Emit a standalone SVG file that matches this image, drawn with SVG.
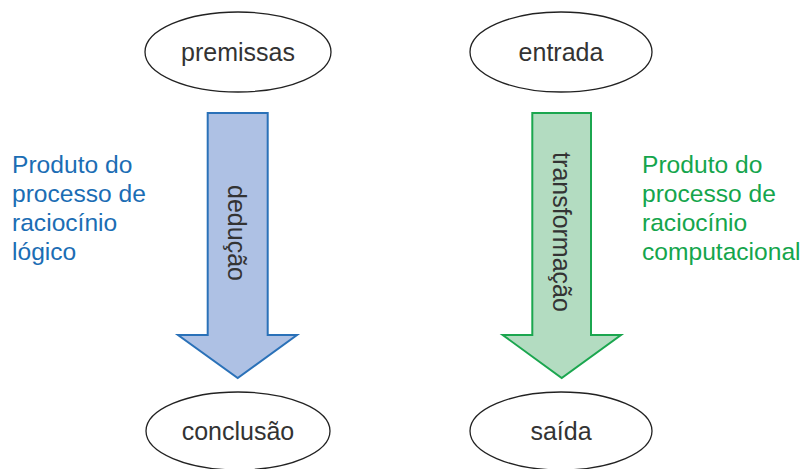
<svg xmlns="http://www.w3.org/2000/svg" width="805" height="469" viewBox="0 0 805 469">
<style>
.node ellipse{fill:#fff;stroke:#222;stroke-width:1.3}
.lbl{font-family:"Liberation Sans",Arial,sans-serif;font-size:25px;fill:#333;text-anchor:middle;dominant-baseline:central}
.side{font-family:"Liberation Sans",Arial,sans-serif;font-size:24.6px}
.blue{fill:#1b6db4}
.green{fill:#14a54c}
</style>
<rect width="805" height="469" fill="#fff"/>
<g id="premissas" class="node"><ellipse cx="238" cy="52" rx="93" ry="40"/><text class="lbl" x="238" y="52">premissas</text></g>
<g id="entrada" class="node"><ellipse cx="561" cy="52" rx="91" ry="40"/><text class="lbl" x="561" y="52">entrada</text></g>
<g id="conclusao" class="node"><ellipse cx="238" cy="431" rx="92" ry="39"/><text class="lbl" x="238" y="431">conclusão</text></g>
<g id="saida" class="node"><ellipse cx="561" cy="431" rx="91" ry="39"/><text class="lbl" x="561" y="431">saída</text></g>
<g id="connectors">
<g id="deducao"><polygon points="207.7,113 267.7,113 267.7,335 297,335 237.7,378 178,335 207.7,335" fill="#aec1e4" stroke="#2a71b8" stroke-width="2"/><text class="lbl" transform="translate(237,233) rotate(90)" x="0" y="0">dedução</text></g>
<g id="transformacao"><polygon points="532.3,113 591,113 591,335 621,335 561.7,378 502.7,335 532.3,335" fill="#b3dcc1" stroke="#1ba64f" stroke-width="2"/><text class="lbl" transform="translate(562,232) rotate(90)" x="0" y="0">transformação</text></g>
</g>
<g id="nota-logico" class="side blue"><text x="12" y="173">Produto do</text><text x="12" y="202">processo de</text><text x="12" y="231">raciocínio</text><text x="12" y="260">lógico</text></g>
<g id="nota-computacional" class="side green"><text x="642" y="173">Produto do</text><text x="642" y="202">processo de</text><text x="642" y="231">raciocínio</text><text x="642" y="260">computacional</text></g>
</svg>
